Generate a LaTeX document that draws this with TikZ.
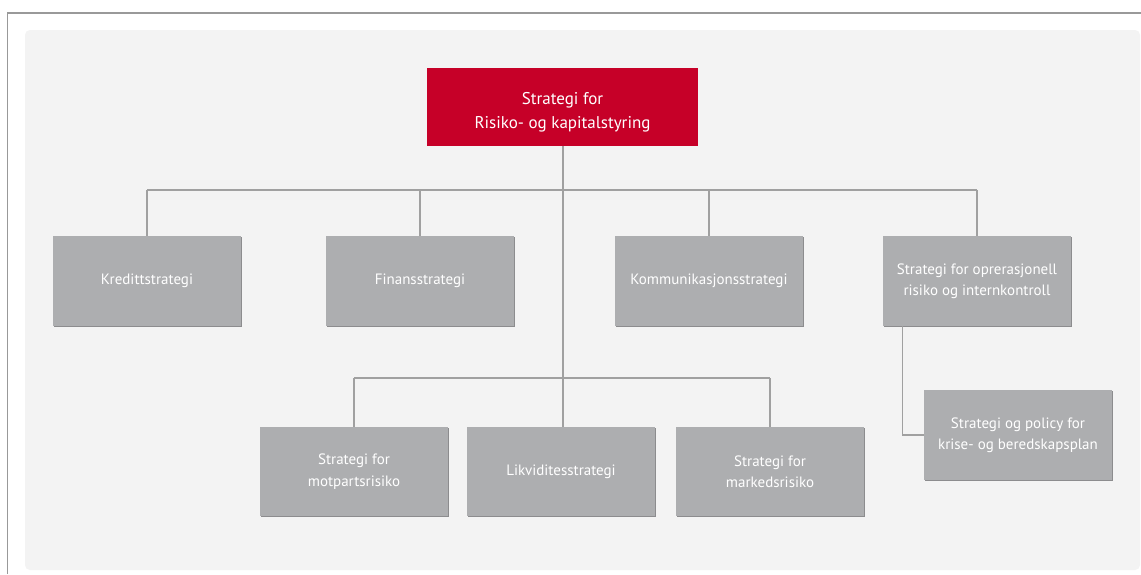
\documentclass[tikz,border=0pt]{standalone}
\usepackage{fontspec}
\setmainfont{PT Sans}
\usetikzlibrary{shadows}
\definecolor{framegray}{RGB}{153,153,153}
\definecolor{panelgray}{RGB}{243,243,243}
\definecolor{boxgray}{RGB}{173,174,176}
\definecolor{edgegray}{RGB}{140,140,142}
\definecolor{linegray}{RGB}{160,160,160}
\definecolor{headred}{RGB}{198,0,40}
\begin{document}
\begin{tikzpicture}[x=1pt, y=-1pt,
  stratbox/.style={fill=boxgray, text=white, minimum width=188pt, minimum height=90pt,
    inner sep=0pt, align=center, font=\fontsize{15}{21.5}\selectfont,
    drop shadow={shadow xshift=0.8pt, shadow yshift=-0.8pt, fill=edgegray, opacity=1}},
  headbox/.style={fill=headred, minimum width=271pt, minimum height=78pt, inner sep=0pt},
  headtext/.style={text=white, inner sep=0pt, align=center, font=\fontsize{17}{24.5}\selectfont},
  conn/.style={draw=linegray, line width=1.3pt}]
  % canvas and outer frame
  \useasboundingbox (0,0) rectangle (1141,574);
  \fill[white] (0,0) rectangle (1141,574);
  \draw[framegray, line width=1.6pt] (7.5,574) -- (7.5,13) -- (1141,13);
  \fill[panelgray, rounded corners=5pt] (25,30) rectangle (1140,570);

  % bus coordinates
  \coordinate (busTop) at (563,190);
  \coordinate (busLow) at (563,378);

  % nodes
  \node[headbox] (head) at (562.5,107) {};
  \node[headtext] (headlbl) at ([yshift=-5pt]head.center) {Strategi for\\Risiko- og kapitalstyring};
  \node[stratbox] (kred) at (147,281) {Kredittstrategi};
  \node[stratbox] (fin) at (420,281) {Finansstrategi};
  \node[stratbox] (komm) at (709,281) {Kommunikasjonsstrategi};
  \node[stratbox] (oper) at (977,281) {Strategi for oprerasjonell\\risiko og internkontroll};
  \node[stratbox, minimum height=89pt] (motp) at (354,471.5) {Strategi for\\motpartsrisiko};
  \node[stratbox, minimum height=89pt] (likv) at (561,471.5) {Likviditesstrategi};
  \node[stratbox, minimum height=89pt] (mark) at (770,471.5) {Strategi for\\markedsrisiko};
  \node[stratbox] (krise) at (1018,435) {Strategi og policy for\\krise- og beredskapsplan};

  % connectors
  \draw[conn] (head.south -| busTop) -- (busLow);
  \draw[conn] (kred.north |- busTop) -- (oper.north |- busTop);
  \draw[conn] (kred.north |- busTop) -- (kred.north);
  \draw[conn] (fin.north |- busTop) -- (fin.north);
  \draw[conn] (komm.north |- busTop) -- (komm.north);
  \draw[conn] (oper.north |- busTop) -- (oper.north);
  \draw[conn] (motp.north |- busLow) -- (mark.north |- busLow);
  \draw[conn] (motp.north |- busLow) -- (motp.north);
  \draw[conn] (busLow) -- (likv.north -| busLow);
  \draw[conn] (mark.north |- busLow) -- (mark.north);
  \draw[conn] ([xshift=20pt]oper.south west) |- (krise.west);
\end{tikzpicture}
\end{document}
